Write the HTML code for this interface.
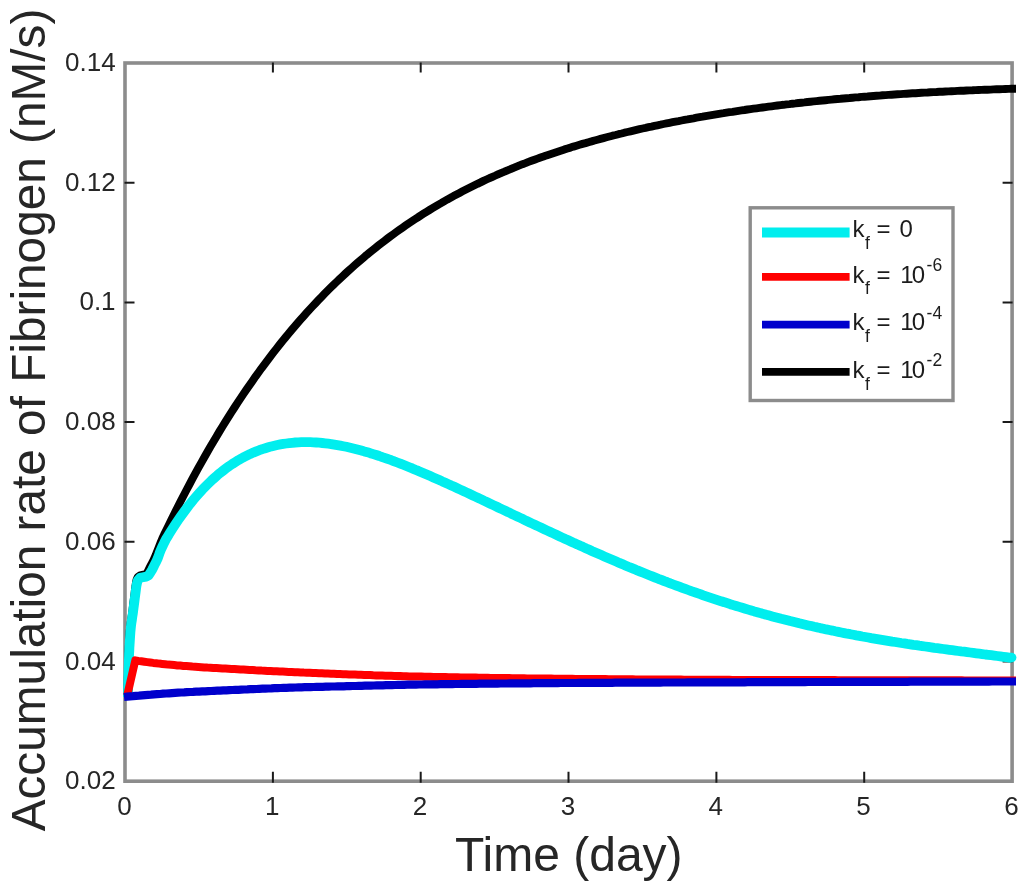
<!DOCTYPE html>
<html lang="en">
<head>
<meta charset="utf-8">
<title>Accumulation rate of Fibrinogen</title>
<style>
html,body{margin:0;padding:0;background:#fff;}
body{width:1024px;height:887px;overflow:hidden;}
svg{display:block;}
text{font-family:"Liberation Sans", Arial, Helvetica, sans-serif;fill:#262626;}
.tk{font-size:26px;fill:#484848;}
.lg{font-size:24px;fill:#1c1c1c;}
.ss{font-size:17.5px;fill:#1c1c1c;}
.xl{font-size:48px;}
.yl{font-size:47.75px;}
</style>
</head>
<body>
<svg width="1024" height="887" viewBox="0 0 1024 887">
<rect x="0" y="0" width="1024" height="887" fill="#ffffff"/>
<rect x="125.0" y="63.0" width="887.1" height="718.2" fill="none" stroke="#8c8c8c" stroke-width="3.6"/>
<path d="M272.9,782.7v-11.0 M272.9,62.5v10.0 M420.7,782.7v-11.0 M420.7,62.5v10.0 M568.5,782.7v-11.0 M568.5,62.5v10.0 M716.4,782.7v-11.0 M716.4,62.5v10.0 M864.2,782.7v-11.0 M864.2,62.5v10.0 M124.5,661.5h10.0 M1012.6,661.5h-10.0 M124.5,541.8h10.0 M1012.6,541.8h-10.0 M124.5,422.1h10.0 M1012.6,422.1h-10.0 M124.5,302.4h10.0 M1012.6,302.4h-10.0 M124.5,182.7h10.0 M1012.6,182.7h-10.0" fill="none" stroke="#1a1a1a" stroke-width="2"/>
<g class="tk" text-anchor="middle">
<text x="124.4" y="815">0</text>
<text x="272.2" y="815">1</text>
<text x="420.1" y="815">2</text>
<text x="567.9" y="815">3</text>
<text x="715.8" y="815">4</text>
<text x="863.6" y="815">5</text>
<text x="1011.5" y="815">6</text>
</g>
<g class="tk" text-anchor="end">
<text x="115.6" y="789.2">0.02</text>
<text x="115.6" y="669.5">0.04</text>
<text x="115.6" y="549.8">0.06</text>
<text x="115.6" y="430.1">0.08</text>
<text x="115.6" y="310.4">0.1</text>
<text x="115.6" y="190.7">0.12</text>
<text x="115.6" y="71.0">0.14</text>
</g>
<text class="xl" x="568.8" y="870.6" text-anchor="middle">Time (day)</text>
<text class="yl" transform="translate(44.8,420) rotate(-90)" text-anchor="middle">Accumulation rate of Fibrinogen (nM/s)</text>
<path d="M127.5,697.0 L127.5,693.9 L127.6,690.8 L127.7,687.7 L127.7,684.6 L127.8,681.6 L127.8,678.5 L127.9,675.4 L128.0,672.3 L128.0,669.2 L128.1,666.1 L128.2,663.0 L128.3,659.9 L128.4,656.8 L128.5,653.7 L128.6,650.7 L128.7,647.6 L128.9,644.5 L129.0,641.4 L129.2,638.3 L129.4,635.2 L129.6,632.1 L129.9,629.1 L130.2,626.0 L130.6,622.9 L131.1,619.9 L131.5,616.8 L132.0,613.8 L132.4,610.7 L132.8,607.6 L133.1,604.6 L133.5,601.5 L133.9,598.4 L134.3,595.4 L134.7,592.3 L135.0,589.2 L135.5,586.2 L135.9,583.0 L136.5,579.9 L137.7,577.2 L140.1,575.3 L143.2,574.7 L146.2,573.9 L147.8,571.4 L149.1,568.5 L150.6,565.7 L152.0,563.0 L153.4,560.3 L154.7,557.4 L155.9,554.6 L157.0,551.7 L158.2,548.8 L159.3,546.0 L160.4,543.1 L161.6,540.2 L162.8,537.4 L164.1,534.6 L165.5,531.8 L168.5,525.6 L171.5,519.5 L174.5,513.4 L177.5,507.4 L180.5,501.5 L183.5,495.7 L186.5,490.0 L189.5,484.3 L192.5,478.7 L195.5,473.2 L198.5,467.7 L201.5,462.3 L204.5,457.0 L207.5,451.7 L210.5,446.6 L213.5,441.5 L216.5,436.4 L219.5,431.4 L222.5,426.5 L225.5,421.7 L228.5,416.9 L231.5,412.2 L234.5,407.5 L237.5,402.9 L240.5,398.4 L243.5,393.9 L246.5,389.5 L249.5,385.2 L252.5,380.9 L255.5,376.6 L258.5,372.5 L261.5,368.3 L264.5,364.3 L267.5,360.3 L270.5,356.3 L273.5,352.4 L276.5,348.6 L279.5,344.8 L282.5,341.0 L285.5,337.4 L288.5,333.7 L291.5,330.1 L294.5,326.6 L297.5,323.1 L300.5,319.7 L303.5,316.3 L306.5,312.9 L309.5,309.6 L312.5,306.4 L315.5,303.2 L318.5,300.0 L321.5,296.9 L324.5,293.8 L327.5,290.8 L330.5,287.8 L333.5,284.9 L336.5,282.0 L339.5,279.1 L342.5,276.3 L345.5,273.5 L348.5,270.8 L351.5,268.1 L354.5,265.4 L357.5,262.8 L360.5,260.2 L363.5,257.7 L366.5,255.1 L369.5,252.7 L372.5,250.2 L375.5,247.8 L378.5,245.4 L381.5,243.1 L384.5,240.8 L387.5,238.5 L390.5,236.3 L393.5,234.1 L396.5,231.9 L399.5,229.8 L402.5,227.7 L405.5,225.6 L408.5,223.5 L411.5,221.5 L414.5,219.5 L417.5,217.6 L420.5,215.6 L423.5,213.7 L426.5,211.8 L429.5,210.0 L432.5,208.2 L435.5,206.4 L438.5,204.6 L441.5,202.9 L444.5,201.1 L447.5,199.4 L450.5,197.8 L453.5,196.1 L456.5,194.5 L459.5,192.9 L462.5,191.3 L465.5,189.8 L468.5,188.3 L471.5,186.8 L474.5,185.3 L477.5,183.8 L480.5,182.4 L483.5,180.9 L486.5,179.5 L489.5,178.2 L492.5,176.8 L495.5,175.5 L498.5,174.1 L501.5,172.8 L504.5,171.6 L507.5,170.3 L510.5,169.1 L513.5,167.8 L516.5,166.6 L519.5,165.4 L522.5,164.2 L525.5,163.1 L528.5,161.9 L531.5,160.8 L534.5,159.7 L537.5,158.6 L540.5,157.5 L543.5,156.5 L546.5,155.4 L549.5,154.4 L552.5,153.4 L555.5,152.4 L558.5,151.4 L561.5,150.4 L564.5,149.4 L567.5,148.5 L570.5,147.6 L573.5,146.6 L576.5,145.7 L579.5,144.8 L582.5,143.9 L585.5,143.1 L588.5,142.2 L591.5,141.4 L594.5,140.5 L597.5,139.7 L600.5,138.9 L603.5,138.1 L606.5,137.3 L609.5,136.5 L612.5,135.7 L615.5,135.0 L618.5,134.2 L621.5,133.5 L624.5,132.7 L627.5,132.0 L630.5,131.3 L633.5,130.6 L636.5,129.9 L639.5,129.2 L642.5,128.5 L645.5,127.9 L648.5,127.2 L651.5,126.6 L654.5,125.9 L657.5,125.3 L660.5,124.7 L663.5,124.0 L666.5,123.4 L669.5,122.8 L672.5,122.2 L675.5,121.6 L678.5,121.1 L681.5,120.5 L684.5,119.9 L687.5,119.4 L690.5,118.8 L693.5,118.3 L696.5,117.7 L699.5,117.2 L702.5,116.7 L705.5,116.1 L708.5,115.6 L711.5,115.1 L714.5,114.6 L717.5,114.1 L720.5,113.6 L723.5,113.2 L726.5,112.7 L729.5,112.2 L732.5,111.8 L735.5,111.3 L738.5,110.8 L741.5,110.4 L744.5,110.0 L747.5,109.5 L750.5,109.1 L753.5,108.7 L756.5,108.3 L759.5,107.9 L762.5,107.5 L765.5,107.1 L768.5,106.7 L771.5,106.3 L774.5,105.9 L777.5,105.5 L780.5,105.1 L783.5,104.8 L786.5,104.4 L789.5,104.1 L792.5,103.7 L795.5,103.4 L798.5,103.0 L801.5,102.7 L804.5,102.4 L807.5,102.0 L810.5,101.7 L813.5,101.4 L816.5,101.1 L819.5,100.8 L822.5,100.5 L825.5,100.2 L828.5,99.9 L831.5,99.6 L834.5,99.3 L837.5,99.0 L840.5,98.8 L843.5,98.5 L846.5,98.2 L849.5,98.0 L852.5,97.7 L855.5,97.4 L858.5,97.2 L861.5,96.9 L864.5,96.7 L867.5,96.5 L870.5,96.2 L873.5,96.0 L876.5,95.8 L879.5,95.6 L882.5,95.3 L885.5,95.1 L888.5,94.9 L891.5,94.7 L894.5,94.5 L897.5,94.3 L900.5,94.1 L903.5,93.9 L906.5,93.7 L909.5,93.5 L912.5,93.3 L915.5,93.2 L918.5,93.0 L921.5,92.8 L924.5,92.6 L927.5,92.5 L930.5,92.3 L933.5,92.1 L936.5,92.0 L939.5,91.8 L942.5,91.7 L945.5,91.5 L948.5,91.4 L951.5,91.2 L954.5,91.1 L957.5,90.9 L960.5,90.8 L963.5,90.7 L966.5,90.5 L969.5,90.4 L972.5,90.3 L975.5,90.1 L978.5,90.0 L981.5,89.9 L984.5,89.8 L987.5,89.7 L990.5,89.6 L993.5,89.4 L996.5,89.3 L999.5,89.2 L1002.5,89.1 L1005.5,89.0 L1008.5,88.9 L1011.5,88.8 L1014.5,88.7 L1016.0,88.7" fill="none" stroke="#000000" stroke-width="7.9" stroke-linejoin="round"/>
<path d="M128.0,697.0 L128.0,693.9 L128.1,690.8 L128.1,687.7 L128.2,684.6 L128.3,681.5 L128.3,678.5 L128.4,675.4 L128.5,672.3 L128.6,669.2 L128.7,666.1 L128.8,663.0 L128.9,659.9 L129.0,656.8 L129.1,653.7 L129.3,650.7 L129.4,647.6 L129.6,644.5 L129.8,641.4 L130.0,638.3 L130.2,635.2 L130.4,632.2 L130.7,629.1 L131.0,626.0 L131.4,622.9 L131.9,619.9 L132.3,616.8 L132.8,613.8 L133.2,610.7 L133.6,607.6 L134.0,604.6 L134.4,601.5 L134.8,598.4 L135.2,595.4 L135.6,592.3 L136.0,589.2 L136.4,586.2 L137.0,583.0 L137.9,580.2 L140.1,577.8 L143.0,577.2 L146.2,576.6 L148.6,575.4 L150.4,572.6 L152.0,570.0 L153.4,567.2 L154.8,564.4 L156.2,561.7 L157.5,558.9 L158.6,556.0 L159.6,553.1 L160.7,550.2 L162.0,547.4 L163.3,544.6 L164.7,541.8 L166.1,539.1 L167.7,536.4 L169.3,533.8 L172.3,529.0 L175.3,524.4 L178.3,519.9 L181.3,515.6 L184.3,511.5 L187.3,507.5 L190.3,503.6 L193.3,499.9 L196.3,496.4 L199.3,493.0 L202.3,489.7 L205.3,486.6 L208.3,483.6 L211.3,480.7 L214.3,478.0 L217.3,475.3 L220.3,472.8 L223.3,470.5 L226.3,468.2 L229.3,466.0 L232.3,464.0 L235.3,462.1 L238.3,460.2 L241.3,458.5 L244.3,456.9 L247.3,455.4 L250.3,453.9 L253.3,452.6 L256.3,451.4 L259.3,450.2 L262.3,449.1 L265.3,448.2 L268.3,447.3 L271.3,446.4 L274.3,445.7 L277.3,445.0 L280.3,444.4 L283.3,443.9 L286.3,443.5 L289.3,443.1 L292.3,442.8 L295.3,442.5 L298.3,442.4 L301.3,442.2 L304.3,442.2 L307.3,442.2 L310.3,442.2 L313.3,442.3 L316.3,442.5 L319.3,442.7 L322.3,443.0 L325.3,443.3 L328.3,443.7 L331.3,444.1 L334.3,444.6 L337.3,445.1 L340.3,445.6 L343.3,446.2 L346.3,446.8 L349.3,447.5 L352.3,448.2 L355.3,448.9 L358.3,449.7 L361.3,450.5 L364.3,451.4 L367.3,452.2 L370.3,453.2 L373.3,454.1 L376.3,455.0 L379.3,456.0 L382.3,457.1 L385.3,458.1 L388.3,459.2 L391.3,460.2 L394.3,461.4 L397.3,462.5 L400.3,463.6 L403.3,464.8 L406.3,466.0 L409.3,467.2 L412.3,468.4 L415.3,469.7 L418.3,470.9 L421.3,472.2 L424.3,473.5 L427.3,474.8 L430.3,476.1 L433.3,477.4 L436.3,478.7 L439.3,480.0 L442.3,481.4 L445.3,482.7 L448.3,484.1 L451.3,485.5 L454.3,486.8 L457.3,488.2 L460.3,489.6 L463.3,491.0 L466.3,492.4 L469.3,493.8 L472.3,495.2 L475.3,496.6 L478.3,498.0 L481.3,499.4 L484.3,500.9 L487.3,502.3 L490.3,503.7 L493.3,505.1 L496.3,506.5 L499.3,508.0 L502.3,509.4 L505.3,510.8 L508.3,512.2 L511.3,513.7 L514.3,515.1 L517.3,516.5 L520.3,517.9 L523.3,519.3 L526.3,520.8 L529.3,522.2 L532.3,523.6 L535.3,525.0 L538.3,526.4 L541.3,527.8 L544.3,529.2 L547.3,530.6 L550.3,532.0 L553.3,533.4 L556.3,534.8 L559.3,536.2 L562.3,537.6 L565.3,539.0 L568.3,540.3 L571.3,541.7 L574.3,543.1 L577.3,544.4 L580.3,545.8 L583.3,547.1 L586.3,548.5 L589.3,549.8 L592.3,551.2 L595.3,552.5 L598.3,553.8 L601.3,555.1 L604.3,556.4 L607.3,557.7 L610.3,559.0 L613.3,560.3 L616.3,561.6 L619.3,562.9 L622.3,564.1 L625.3,565.4 L628.3,566.7 L631.3,567.9 L634.3,569.1 L637.3,570.4 L640.3,571.6 L643.3,572.8 L646.3,574.0 L649.3,575.2 L652.3,576.4 L655.3,577.6 L658.3,578.8 L661.3,579.9 L664.3,581.1 L667.3,582.2 L670.3,583.4 L673.3,584.5 L676.3,585.6 L679.3,586.7 L682.3,587.8 L685.3,588.9 L688.3,590.0 L691.3,591.1 L694.3,592.1 L697.3,593.2 L700.3,594.2 L703.3,595.3 L706.3,596.3 L709.3,597.3 L712.3,598.3 L715.3,599.3 L718.3,600.3 L721.3,601.3 L724.3,602.2 L727.3,603.2 L730.3,604.2 L733.3,605.1 L736.3,606.0 L739.3,606.9 L742.3,607.8 L745.3,608.7 L748.3,609.6 L751.3,610.5 L754.3,611.4 L757.3,612.2 L760.3,613.1 L763.3,613.9 L766.3,614.8 L769.3,615.6 L772.3,616.4 L775.3,617.2 L778.3,618.0 L781.3,618.8 L784.3,619.5 L787.3,620.3 L790.3,621.1 L793.3,621.8 L796.3,622.5 L799.3,623.3 L802.3,624.0 L805.3,624.7 L808.3,625.4 L811.3,626.1 L814.3,626.8 L817.3,627.4 L820.3,628.1 L823.3,628.7 L826.3,629.4 L829.3,630.0 L832.3,630.6 L835.3,631.3 L838.3,631.9 L841.3,632.5 L844.3,633.1 L847.3,633.7 L850.3,634.2 L853.3,634.8 L856.3,635.4 L859.3,635.9 L862.3,636.5 L865.3,637.0 L868.3,637.5 L871.3,638.1 L874.3,638.6 L877.3,639.1 L880.3,639.6 L883.3,640.1 L886.3,640.6 L889.3,641.1 L892.3,641.6 L895.3,642.0 L898.3,642.5 L901.3,643.0 L904.3,643.4 L907.3,643.9 L910.3,644.3 L913.3,644.8 L916.3,645.2 L919.3,645.7 L922.3,646.1 L925.3,646.5 L928.3,646.9 L931.3,647.3 L934.3,647.8 L937.3,648.2 L940.3,648.6 L943.3,649.0 L946.3,649.4 L949.3,649.8 L952.3,650.2 L955.3,650.6 L958.3,651.0 L961.3,651.4 L964.3,651.7 L967.3,652.1 L970.3,652.5 L973.3,652.9 L976.3,653.3 L979.3,653.7 L982.3,654.1 L985.3,654.5 L988.3,654.8 L991.3,655.2 L994.3,655.6 L997.3,656.0 L1000.3,656.4 L1003.3,656.8 L1006.3,657.2 L1009.3,657.6 L1011.5,657.9" fill="none" stroke="#00eeee" stroke-width="9.8" stroke-linejoin="round"/>
<circle cx="1011.5" cy="657.6" r="4.9" fill="#00eeee"/>
<path d="M127.2,695.5 L135.3,660.4 L138.3,660.9 L141.3,661.3 L144.3,661.7 L147.2,662.1 L150.2,662.5 L153.2,662.9 L156.2,663.2 L159.2,663.6 L162.2,663.9 L165.2,664.2 L168.2,664.6 L171.2,664.8 L174.2,665.1 L177.3,665.4 L180.3,665.6 L183.3,665.9 L186.3,666.1 L189.3,666.3 L192.3,666.6 L195.3,666.8 L198.3,667.0 L201.3,667.2 L204.3,667.4 L207.4,667.6 L210.4,667.7 L213.4,667.9 L216.4,668.1 L219.4,668.3 L222.4,668.5 L225.4,668.6 L228.4,668.8 L231.5,669.0 L234.5,669.1 L237.5,669.3 L240.5,669.5 L243.5,669.6 L246.5,669.8 L249.5,670.0 L252.6,670.1 L255.6,670.3 L258.6,670.4 L261.6,670.6 L264.6,670.7 L267.6,670.9 L270.6,671.0 L273.7,671.2 L276.7,671.3 L279.7,671.5 L282.7,671.6 L285.7,671.7 L288.7,671.9 L291.7,672.0 L294.8,672.2 L297.8,672.3 L300.8,672.4 L303.8,672.6 L306.8,672.7 L309.8,672.8 L312.9,673.0 L315.9,673.1 L318.9,673.2 L321.9,673.3 L324.9,673.5 L327.9,673.6 L330.9,673.7 L334.0,673.8 L337.0,674.0 L340.0,674.1 L343.0,674.2 L346.0,674.3 L349.0,674.4 L352.1,674.5 L355.1,674.6 L358.1,674.7 L361.1,674.8 L364.1,674.9 L367.1,675.0 L370.2,675.1 L373.2,675.3 L376.2,675.4 L379.2,675.5 L382.2,675.6 L385.2,675.7 L388.3,675.7 L391.3,675.8 L394.3,675.9 L397.3,676.0 L400.3,676.1 L403.3,676.2 L406.4,676.3 L409.4,676.4 L412.4,676.4 L415.4,676.5 L418.4,676.6 L421.4,676.6 L424.5,676.7 L427.5,676.8 L430.5,676.8 L433.5,676.9 L436.5,676.9 L439.5,677.0 L442.6,677.0 L445.6,677.1 L448.6,677.2 L451.6,677.2 L454.6,677.3 L457.7,677.3 L460.7,677.4 L463.7,677.4 L466.7,677.5 L469.7,677.5 L472.7,677.6 L475.8,677.6 L478.8,677.7 L481.8,677.7 L484.8,677.8 L487.8,677.8 L490.8,677.9 L493.9,677.9 L496.9,678.0 L499.9,678.0 L502.9,678.0 L505.9,678.1 L509.0,678.1 L512.0,678.2 L515.0,678.2 L518.0,678.2 L521.0,678.3 L524.0,678.3 L527.1,678.4 L530.1,678.4 L533.1,678.4 L536.1,678.5 L539.1,678.5 L542.2,678.5 L545.2,678.6 L548.2,678.6 L551.2,678.6 L554.2,678.7 L557.2,678.7 L560.3,678.7 L563.3,678.8 L566.3,678.8 L569.3,678.8 L572.3,678.8 L575.4,678.9 L578.4,678.9 L581.4,678.9 L584.4,678.9 L587.4,679.0 L590.4,679.0 L593.5,679.0 L596.5,679.1 L599.5,679.1 L602.5,679.1 L605.5,679.1 L608.6,679.2 L611.6,679.2 L614.6,679.2 L617.6,679.2 L620.6,679.2 L623.6,679.3 L626.7,679.3 L629.7,679.3 L632.7,679.3 L635.7,679.4 L638.7,679.4 L641.8,679.4 L644.8,679.4 L647.8,679.4 L650.8,679.5 L653.8,679.5 L656.8,679.5 L659.9,679.5 L662.9,679.5 L665.9,679.6 L668.9,679.6 L671.9,679.6 L674.9,679.6 L678.0,679.6 L681.0,679.6 L684.0,679.7 L687.0,679.7 L690.0,679.7 L693.1,679.7 L696.1,679.7 L699.1,679.7 L702.1,679.7 L705.1,679.8 L708.1,679.8 L711.2,679.8 L714.2,679.8 L717.2,679.8 L720.2,679.8 L723.2,679.8 L726.3,679.8 L729.3,679.8 L732.3,679.9 L735.3,679.9 L738.3,679.9 L741.3,679.9 L744.4,679.9 L747.4,679.9 L750.4,679.9 L753.4,679.9 L756.4,679.9 L759.5,680.0 L762.5,680.0 L765.5,680.0 L768.5,680.0 L771.5,680.0 L774.5,680.0 L777.6,680.0 L780.6,680.0 L783.6,680.0 L786.6,680.0 L789.6,680.0 L792.7,680.0 L795.7,680.1 L798.7,680.1 L801.7,680.1 L804.7,680.1 L807.7,680.1 L810.8,680.1 L813.8,680.1 L816.8,680.1 L819.8,680.1 L822.8,680.1 L825.9,680.1 L828.9,680.1 L831.9,680.1 L834.9,680.1 L837.9,680.2 L840.9,680.2 L844.0,680.2 L847.0,680.2 L850.0,680.2 L853.0,680.2 L856.0,680.2 L859.1,680.2 L862.1,680.2 L865.1,680.2 L868.1,680.2 L871.1,680.2 L874.1,680.2 L877.2,680.2 L880.2,680.2 L883.2,680.2 L886.2,680.2 L889.2,680.2 L892.3,680.2 L895.3,680.3 L898.3,680.3 L901.3,680.3 L904.3,680.3 L907.3,680.3 L910.4,680.3 L913.4,680.3 L916.4,680.3 L919.4,680.3 L922.4,680.3 L925.5,680.3 L928.5,680.3 L931.5,680.3 L934.5,680.3 L937.5,680.3 L940.5,680.3 L943.6,680.3 L946.6,680.3 L949.6,680.3 L952.6,680.3 L955.6,680.3 L958.7,680.3 L961.7,680.3 L964.7,680.4 L967.7,680.4 L970.7,680.4 L973.7,680.4 L976.8,680.4 L979.8,680.4 L982.8,680.4 L985.8,680.4 L988.8,680.4 L991.9,680.4 L994.9,680.4 L997.9,680.4 L1000.9,680.4 L1003.9,680.4 L1006.9,680.4 L1010.0,680.4 L1013.0,680.4 L1016.0,680.4" fill="none" stroke="#ff0000" stroke-width="8" stroke-linejoin="round"/>
<path d="M124.0,697.0 L127.0,696.7 L130.0,696.4 L133.0,696.2 L136.0,695.9 L139.0,695.7 L142.0,695.4 L145.0,695.1 L148.0,694.9 L151.0,694.7 L154.0,694.4 L157.0,694.2 L160.1,694.0 L163.1,693.7 L166.1,693.5 L169.1,693.3 L172.1,693.1 L175.1,692.9 L178.1,692.7 L181.1,692.5 L184.1,692.4 L187.1,692.2 L190.1,692.0 L193.1,691.9 L196.2,691.7 L199.2,691.6 L202.2,691.4 L205.2,691.3 L208.2,691.1 L211.2,691.0 L214.2,690.8 L217.2,690.7 L220.2,690.6 L223.3,690.4 L226.3,690.3 L229.3,690.1 L232.3,690.0 L235.3,689.9 L238.3,689.8 L241.3,689.6 L244.3,689.5 L247.3,689.4 L250.4,689.2 L253.4,689.1 L256.4,689.0 L259.4,688.8 L262.4,688.7 L265.4,688.6 L268.4,688.5 L271.4,688.4 L274.5,688.2 L277.5,688.1 L280.5,688.0 L283.5,687.9 L286.5,687.8 L289.5,687.7 L292.5,687.6 L295.5,687.5 L298.6,687.4 L301.6,687.3 L304.6,687.2 L307.6,687.2 L310.6,687.1 L313.6,687.0 L316.6,686.9 L319.7,686.8 L322.7,686.8 L325.7,686.7 L328.7,686.6 L331.7,686.5 L334.7,686.5 L337.7,686.4 L340.8,686.3 L343.8,686.3 L346.8,686.2 L349.8,686.1 L352.8,686.0 L355.8,686.0 L358.8,685.9 L361.8,685.8 L364.9,685.7 L367.9,685.7 L370.9,685.6 L373.9,685.5 L376.9,685.4 L379.9,685.4 L382.9,685.3 L386.0,685.2 L389.0,685.1 L392.0,685.1 L395.0,685.0 L398.0,684.9 L401.0,684.9 L404.0,684.8 L407.1,684.7 L410.1,684.7 L413.1,684.6 L416.1,684.6 L419.1,684.5 L422.1,684.5 L425.1,684.4 L428.2,684.4 L431.2,684.3 L434.2,684.3 L437.2,684.3 L440.2,684.2 L443.2,684.2 L446.2,684.1 L449.3,684.1 L452.3,684.1 L455.3,684.0 L458.3,684.0 L461.3,683.9 L464.3,683.9 L467.3,683.9 L470.4,683.8 L473.4,683.8 L476.4,683.8 L479.4,683.7 L482.4,683.7 L485.4,683.7 L488.4,683.6 L491.5,683.6 L494.5,683.6 L497.5,683.6 L500.5,683.5 L503.5,683.5 L506.5,683.5 L509.5,683.4 L512.6,683.4 L515.6,683.4 L518.6,683.4 L521.6,683.3 L524.6,683.3 L527.6,683.3 L530.6,683.3 L533.7,683.2 L536.7,683.2 L539.7,683.2 L542.7,683.2 L545.7,683.1 L548.7,683.1 L551.7,683.1 L554.8,683.1 L557.8,683.1 L560.8,683.0 L563.8,683.0 L566.8,683.0 L569.8,683.0 L572.9,683.0 L575.9,683.0 L578.9,682.9 L581.9,682.9 L584.9,682.9 L587.9,682.9 L590.9,682.9 L594.0,682.9 L597.0,682.8 L600.0,682.8 L603.0,682.8 L606.0,682.8 L609.0,682.8 L612.0,682.8 L615.1,682.7 L618.1,682.7 L621.1,682.7 L624.1,682.7 L627.1,682.7 L630.1,682.7 L633.1,682.7 L636.2,682.7 L639.2,682.6 L642.2,682.6 L645.2,682.6 L648.2,682.6 L651.2,682.6 L654.2,682.6 L657.3,682.6 L660.3,682.6 L663.3,682.5 L666.3,682.5 L669.3,682.5 L672.3,682.5 L675.3,682.5 L678.4,682.5 L681.4,682.5 L684.4,682.5 L687.4,682.4 L690.4,682.4 L693.4,682.4 L696.4,682.4 L699.5,682.4 L702.5,682.4 L705.5,682.4 L708.5,682.4 L711.5,682.4 L714.5,682.4 L717.6,682.3 L720.6,682.3 L723.6,682.3 L726.6,682.3 L729.6,682.3 L732.6,682.3 L735.6,682.3 L738.7,682.3 L741.7,682.3 L744.7,682.3 L747.7,682.2 L750.7,682.2 L753.7,682.2 L756.7,682.2 L759.8,682.2 L762.8,682.2 L765.8,682.2 L768.8,682.2 L771.8,682.2 L774.8,682.2 L777.8,682.1 L780.9,682.1 L783.9,682.1 L786.9,682.1 L789.9,682.1 L792.9,682.1 L795.9,682.1 L798.9,682.1 L802.0,682.1 L805.0,682.1 L808.0,682.0 L811.0,682.0 L814.0,682.0 L817.0,682.0 L820.0,682.0 L823.1,682.0 L826.1,682.0 L829.1,682.0 L832.1,682.0 L835.1,682.0 L838.1,682.0 L841.2,681.9 L844.2,681.9 L847.2,681.9 L850.2,681.9 L853.2,681.9 L856.2,681.9 L859.2,681.9 L862.3,681.9 L865.3,681.9 L868.3,681.9 L871.3,681.9 L874.3,681.8 L877.3,681.8 L880.3,681.8 L883.4,681.8 L886.4,681.8 L889.4,681.8 L892.4,681.8 L895.4,681.8 L898.4,681.8 L901.4,681.8 L904.5,681.8 L907.5,681.8 L910.5,681.7 L913.5,681.7 L916.5,681.7 L919.5,681.7 L922.5,681.7 L925.6,681.7 L928.6,681.7 L931.6,681.7 L934.6,681.7 L937.6,681.7 L940.6,681.7 L943.6,681.7 L946.7,681.7 L949.7,681.6 L952.7,681.6 L955.7,681.6 L958.7,681.6 L961.7,681.6 L964.8,681.6 L967.8,681.6 L970.8,681.6 L973.8,681.6 L976.8,681.6 L979.8,681.6 L982.8,681.6 L985.9,681.6 L988.9,681.6 L991.9,681.5 L994.9,681.5 L997.9,681.5 L1000.9,681.5 L1003.9,681.5 L1007.0,681.5 L1010.0,681.5 L1013.0,681.5 L1016.0,681.5" fill="none" stroke="#0000cc" stroke-width="8.2" stroke-linejoin="round"/>
<rect x="750.2" y="207.8" width="202.8" height="192.7" fill="#ffffff" stroke="#8c8c8c" stroke-width="3.4"/>
<path d="M762,232.5H849.6" stroke="#00eeee" stroke-width="9.8" fill="none"/>
<text class="lg" x="852.4" y="237.4">k</text><text class="ss" x="865" y="249.0">f</text><text class="lg" x="876.6" y="237.4">=</text><text class="lg" x="899.4" y="237.4">0</text>
<path d="M762,276.9H849.6" stroke="#ff0000" stroke-width="7.7" fill="none"/>
<text class="lg" x="852.4" y="282.5">k</text><text class="ss" x="865" y="294.1">f</text><text class="lg" x="876.6" y="282.5">=</text><text class="lg" x="900.3" y="282.5" letter-spacing="-2">10</text><text class="ss" x="926.6" y="270.6">-6</text>
<path d="M762,324.7H849.6" stroke="#0000cc" stroke-width="7.7" fill="none"/>
<text class="lg" x="852.4" y="330.4">k</text><text class="ss" x="865" y="342.0">f</text><text class="lg" x="876.6" y="330.4">=</text><text class="lg" x="900.3" y="330.4" letter-spacing="-2">10</text><text class="ss" x="926.6" y="318.5">-4</text>
<path d="M762,371.8H849.6" stroke="#000000" stroke-width="7.7" fill="none"/>
<text class="lg" x="852.4" y="378.2">k</text><text class="ss" x="865" y="389.8">f</text><text class="lg" x="876.6" y="378.2">=</text><text class="lg" x="900.3" y="378.2" letter-spacing="-2">10</text><text class="ss" x="926.6" y="366.3">-2</text>
</svg>
</body>
</html>
